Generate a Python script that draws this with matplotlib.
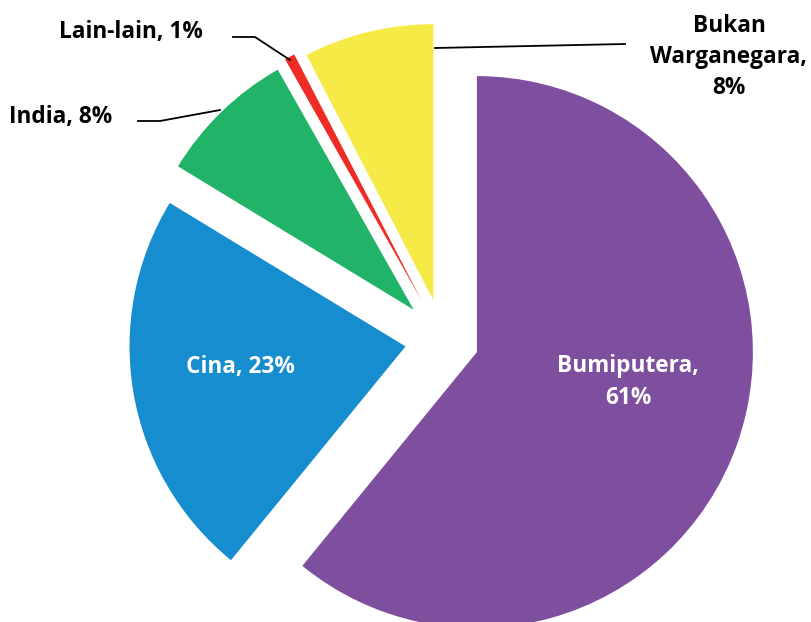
import matplotlib.pyplot as plt

# data
kumpulan = ['Bumiputera', 'Cina', 'India', 'Lain-lain', 'Bukan\nWarganegara']
peratus = [60.9, 22.8, 8.1, 0.6, 7.6]
warna = ['#7f4f9f', '#168dce', '#21b468', '#ee2b24', '#f6ea47']
letupan = [36, 38, 42, 46, 41]

plt.rcParams['font.family'] = ['Open Sans', 'DejaVu Sans']

fig = plt.figure(figsize=(8.12, 6.22), dpi=100)
ax = fig.add_axes([0, 0, 1, 1])

ax.pie(peratus, colors=warna, explode=letupan, radius=276, center=(443, 282),
       startangle=90, counterclock=False, frame=True)
ax.set_xlim(0, 812)
ax.set_ylim(0, 622)
ax.axis('off')

lbl = ['%s, %.0f%%' % (k, p) for k, p in zip(kumpulan, peratus)]
lbl[0] = 'Bumiputera,\n%.0f%%' % peratus[0]
lbl[4] = 'Bukan\nWarganegara,\n%.0f%%' % peratus[4]

tk = dict(fontsize=16.3, fontweight='bold', ha='center', va='center', linespacing=1.4)
ax.text(628, 240, lbl[0], color='white', **tk)
ax.text(240, 255, lbl[1], color='white', **tk)
ax.text(61, 505, lbl[2], color='black', **tk)
ax.text(131, 590, lbl[3], color='black', **tk)
ax.text(729, 565, lbl[4], color='black', **tk)

# garisan penunjuk
ax.plot([138, 160, 220], [501, 501, 512], color='black', lw=1.3)
ax.plot([233, 255, 290], [585, 585, 562], color='black', lw=1.3)
ax.plot([435, 625], [574, 578], color='black', lw=1.3)

fig.savefig('out.png', dpi=100)
